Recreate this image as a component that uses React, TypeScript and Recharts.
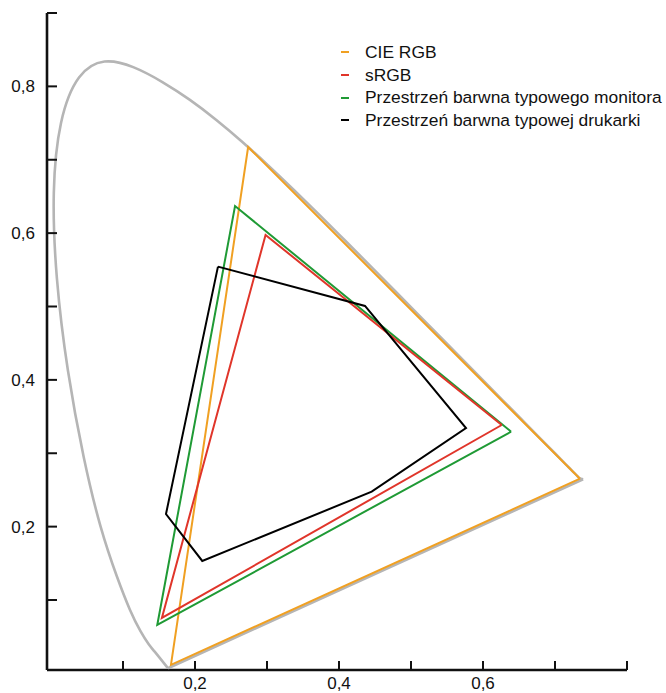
import React from 'react';
import { ScatterChart, Scatter, XAxis, YAxis } from 'recharts';

// CIE 1931 spectral locus (as drawn), from the blue end to the red end
const spectralLocus = [
  { x: 0.1625, y: 0.007 },
  { x: 0.144, y: 0.0297 },
  { x: 0.1355, y: 0.0399 },
  { x: 0.1241, y: 0.0578 },
  { x: 0.1096, y: 0.0868 },
  { x: 0.0913, y: 0.1327 },
  { x: 0.0687, y: 0.2007 },
  { x: 0.0454, y: 0.295 },
  { x: 0.0235, y: 0.4127 },
  { x: 0.0082, y: 0.5384 },
  { x: 0.0039, y: 0.6548 },
  { x: 0.0139, y: 0.7502 },
  { x: 0.0389, y: 0.812 },
  { x: 0.0743, y: 0.8338 },
  { x: 0.1142, y: 0.8262 },
  { x: 0.1547, y: 0.8059 },
  { x: 0.1929, y: 0.7816 },
  { x: 0.2296, y: 0.7543 },
  { x: 0.2658, y: 0.7243 },
  { x: 0.3016, y: 0.6923 },
  { x: 0.3373, y: 0.6589 },
  { x: 0.3731, y: 0.6245 },
  { x: 0.4087, y: 0.5896 },
  { x: 0.4441, y: 0.5547 },
  { x: 0.4788, y: 0.5202 },
  { x: 0.5125, y: 0.4866 },
  { x: 0.5448, y: 0.4544 },
  { x: 0.5752, y: 0.4242 },
  { x: 0.6029, y: 0.3965 },
  { x: 0.627, y: 0.3725 },
  { x: 0.6482, y: 0.3514 },
  { x: 0.6658, y: 0.334 },
  { x: 0.6801, y: 0.3197 },
  { x: 0.6915, y: 0.3083 },
  { x: 0.7006, y: 0.2993 },
  { x: 0.7079, y: 0.292 },
  { x: 0.714, y: 0.2859 },
  { x: 0.719, y: 0.2809 },
  { x: 0.723, y: 0.277 },
  { x: 0.726, y: 0.274 },
  { x: 0.73, y: 0.27 },
  { x: 0.7334, y: 0.2666 },
  { x: 0.739, y: 0.2645 },
];

// line of purples
const purpleLine = [
  { x: 0.739, y: 0.2645 },
  { x: 0.1625, y: 0.007 },
];

const cieRgb = [
  { x: 0.7347, y: 0.2653 },
  { x: 0.2738, y: 0.7174 },
  { x: 0.1666, y: 0.0115 },
  { x: 0.7347, y: 0.2653 },
];

const sRgb = [
  { x: 0.626, y: 0.3385 },
  { x: 0.298, y: 0.5975 },
  { x: 0.154, y: 0.0755 },
  { x: 0.626, y: 0.3385 },
];

const monitor = [
  { x: 0.639, y: 0.3294 },
  { x: 0.2556, y: 0.637 },
  { x: 0.1476, y: 0.066 },
  { x: 0.639, y: 0.3294 },
];

const printer = [
  { x: 0.2319, y: 0.5543 },
  { x: 0.4361, y: 0.5007 },
  { x: 0.5764, y: 0.3344 },
  { x: 0.4454, y: 0.2476 },
  { x: 0.2101, y: 0.1532 },
  { x: 0.1597, y: 0.2172 },
  { x: 0.2319, y: 0.5543 },
];

const xTicks = [0.1, 0.2, 0.3, 0.4, 0.5, 0.6, 0.7, 0.8];
const xLabels = [0.2, 0.4, 0.6];
const yTicks = [0.1, 0.2, 0.3, 0.4, 0.5, 0.6, 0.7, 0.8, 0.9];
const yLabels = [0.2, 0.4, 0.6, 0.8];

const legendNames = [
  'CIE RGB',
  'sRGB',
  'Przestrzeń barwna typowego monitora',
  'Przestrzeń barwna typowej drukarki',
];

const COLORS = {
  locus: '#b5b5b5',
  cie: '#f0a022',
  srgb: '#e0352a',
  monitor: '#1f9a35',
  printer: '#000000',
};
const legendColors = [COLORS.cie, COLORS.srgb, COLORS.monitor, COLORS.printer];

const FONT = '"Liberation Sans", Arial, Helvetica, sans-serif';
const AXIS = '#111111';

const fmt = (v: number) => v.toFixed(1).replace('.', ',');
const has = (arr: number[], v: number) => arr.some((a) => Math.abs(a - v) < 1e-6);

const YTick = (props: any) => {
  const { x, y, payload } = props;
  const v = payload.value as number;
  return (
    <g>
      <line x1={x} y1={y} x2={x + 10} y2={y} stroke={AXIS} strokeWidth={2} />
      {has(yLabels, v) && (
        <text x={x - 12} y={y} dy="0.36em" textAnchor="end" fontFamily={FONT} fontSize={17} fill="#111">
          {fmt(v)}
        </text>
      )}
    </g>
  );
};

const XTick = (props: any) => {
  const { x, y, payload } = props;
  const v = payload.value as number;
  return (
    <g>
      <line x1={x} y1={y} x2={x} y2={y - 9} stroke={AXIS} strokeWidth={2} />
      {has(xLabels, v) && (
        <text x={x} y={y + 18.5} textAnchor="middle" fontFamily={FONT} fontSize={17} fill="#111">
          {fmt(v)}
        </text>
      )}
    </g>
  );
};

const NoDot = () => <g />;

export default function App() {
  return (
    <div style={{ position: 'absolute', left: 0, top: 0, width: 666, height: 693, background: '#fff' }}>
      <ScatterChart width={666} height={693} margin={{ top: 13, right: 39, bottom: 0, left: 0 }}>
        <XAxis
          type="number"
          dataKey="x"
          domain={[-0.00556, 0.8]}
          ticks={xTicks}
          interval={0}
          allowDataOverflow
          height={23}
          tickSize={0}
          tickMargin={0}
          tickLine={false}
          axisLine={{ stroke: AXIS, strokeWidth: 2.6 }}
          tick={<XTick />}
        />
        <YAxis
          type="number"
          dataKey="y"
          domain={[0.0046, 0.9]}
          ticks={yTicks}
          interval={0}
          allowDataOverflow
          width={47}
          tickSize={0}
          tickMargin={0}
          tickLine={false}
          axisLine={{ stroke: AXIS, strokeWidth: 2.6 }}
          tick={<YTick />}
        />
        <Scatter
          data={spectralLocus}
          line={{ stroke: COLORS.locus, strokeWidth: 2.6 }}
          lineJointType="natural"
          shape={NoDot}
          isAnimationActive={false}
        />
        <Scatter
          data={purpleLine}
          line={{ stroke: COLORS.locus, strokeWidth: 2.6 }}
          shape={NoDot}
          isAnimationActive={false}
        />
        <Scatter
          data={cieRgb}
          line={{ stroke: COLORS.cie, strokeWidth: 2, strokeLinejoin: 'miter' }}
          shape={NoDot}
          isAnimationActive={false}
        />
        <Scatter
          data={monitor}
          line={{ stroke: COLORS.monitor, strokeWidth: 2, strokeLinejoin: 'miter' }}
          shape={NoDot}
          isAnimationActive={false}
        />
        <Scatter
          data={sRgb}
          line={{ stroke: COLORS.srgb, strokeWidth: 2, strokeLinejoin: 'miter' }}
          shape={NoDot}
          isAnimationActive={false}
        />
        <Scatter
          data={printer}
          line={{ stroke: COLORS.printer, strokeWidth: 2, strokeLinejoin: 'miter' }}
          shape={NoDot}
          isAnimationActive={false}
        />
      </ScatterChart>
      <div style={{ position: 'absolute', left: 341, top: 41, fontFamily: FONT, fontSize: 17.4, color: '#111' }}>
        {legendNames.map((name, i) => (
          <div key={name} style={{ display: 'flex', alignItems: 'center', height: 22.7, whiteSpace: 'nowrap' }}>
            <span style={{ display: 'inline-block', width: 8, height: 2, background: legendColors[i], marginRight: 16 }} />
            <span>{name}</span>
          </div>
        ))}
      </div>
    </div>
  );
}
